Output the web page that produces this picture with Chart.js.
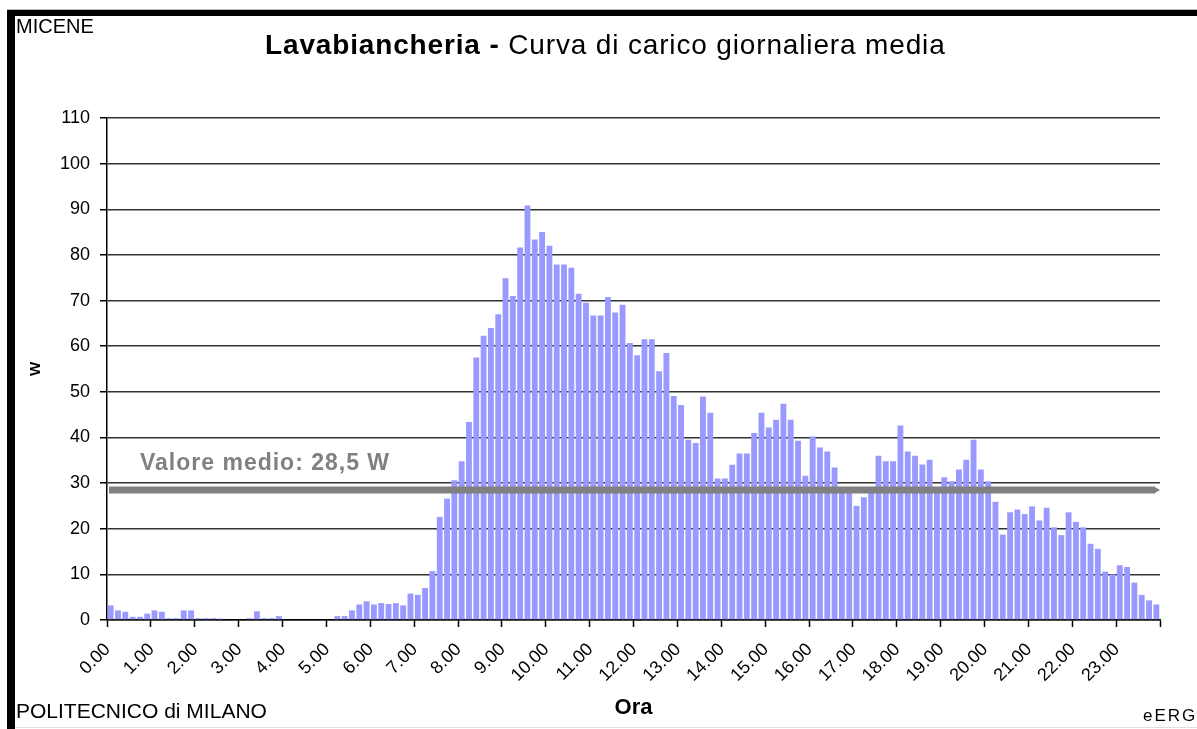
<!DOCTYPE html>
<html><head><meta charset="utf-8">
<script src="https://cdn.jsdelivr.net/npm/chart.js@4.4.1/dist/chart.umd.min.js"></script>
<style>
html,body{margin:0;padding:0;background:#fff;width:1197px;height:729px;overflow:hidden;font-family:"Liberation Sans",Arial,sans-serif;}
#wrap{position:relative;width:1197px;height:729px;}
canvas{position:absolute;left:0;top:0;}
.t{position:absolute;white-space:nowrap;line-height:1;color:#000;}
</style></head><body>
<div id="wrap">
<canvas id="c" width="1197" height="729"></canvas>
<div style="position:absolute;left:7px;top:9px;width:1190px;height:1px;background:#bbb"></div>
<div style="position:absolute;left:7px;top:10px;width:1190px;height:6px;background:#000"></div>
<div style="position:absolute;left:7px;top:10px;width:8px;height:719px;background:#000"></div>
<div style="position:absolute;left:15px;top:727px;width:1182px;height:1px;background:#e0e0e0"></div>
<div class="t" style="left:16px;top:16px;font-size:20px">MICENE</div>
<div class="t" style="left:265px;top:31px;font-size:28px;letter-spacing:0.85px"><b>Lavabiancheria -</b> Curva di carico giornaliera media</div>
<div class="t" style="left:16px;top:700px;font-size:21px">POLITECNICO di MILANO</div>
<div class="t" style="left:1143px;top:707px;font-size:17px;letter-spacing:2px">eERG</div>
</div>
<script>
const categories = [
'0.00','0.10','0.20','0.30','0.40','0.50',
'1.00','1.10','1.20','1.30','1.40','1.50',
'2.00','2.10','2.20','2.30','2.40','2.50',
'3.00','3.10','3.20','3.30','3.40','3.50',
'4.00','4.10','4.20','4.30','4.40','4.50',
'5.00','5.10','5.20','5.30','5.40','5.50',
'6.00','6.10','6.20','6.30','6.40','6.50',
'7.00','7.10','7.20','7.30','7.40','7.50',
'8.00','8.10','8.20','8.30','8.40','8.50',
'9.00','9.10','9.20','9.30','9.40','9.50',
'10.00','10.10','10.20','10.30','10.40','10.50',
'11.00','11.10','11.20','11.30','11.40','11.50',
'12.00','12.10','12.20','12.30','12.40','12.50',
'13.00','13.10','13.20','13.30','13.40','13.50',
'14.00','14.10','14.20','14.30','14.40','14.50',
'15.00','15.10','15.20','15.30','15.40','15.50',
'16.00','16.10','16.20','16.30','16.40','16.50',
'17.00','17.10','17.20','17.30','17.40','17.50',
'18.00','18.10','18.20','18.30','18.40','18.50',
'19.00','19.10','19.20','19.30','19.40','19.50',
'20.00','20.10','20.20','20.30','20.40','20.50',
'21.00','21.10','21.20','21.30','21.40','21.50',
'22.00','22.10','22.20','22.30','22.40','22.50',
'23.00','23.10','23.20','23.30','23.40','23.50'
];

const loadW = [
3.2,2.1,1.8,0.7,0.7,1.4,
2.1,1.8,0.4,0.4,2.1,2.1,
0.4,0.4,0.4,0.3,0,0,
0,0.4,1.9,0.4,0.4,0.85,
0,0,0,0,0,0,
0,0.85,0.85,2.1,3.4,4.1,
3.4,3.7,3.5,3.7,3.2,5.8,
5.5,7.0,10.7,22.6,26.6,30.6,
34.8,43.4,57.5,62.3,64.0,67.0,
74.9,71.0,81.6,90.8,83.4,85.0,
82.0,77.9,77.9,77.2,71.5,69.5,
66.7,66.7,70.8,67.4,69.1,60.7,
58.0,61.5,61.5,54.5,58.5,49.1,
47.1,39.5,38.8,49.0,45.4,31.0,
31.0,34.0,36.5,36.5,41.0,45.4,
42.2,43.9,47.4,43.9,39.3,31.6,
40.2,37.8,36.9,33.4,29.0,28.5,
25.0,26.9,28.0,36.0,34.8,34.8,
42.6,36.9,36.0,34.1,35.1,29.0,
31.3,30.4,33.0,35.1,39.5,33.0,
30.4,25.9,18.7,23.6,24.2,23.2,
24.9,21.8,24.6,20.3,18.6,23.6,
21.5,20.3,16.7,15.6,10.6,10.0,
12.0,11.6,8.2,5.5,4.3,3.4
];

const meanValue = 28.5;
const meanLabel = 'Valore medio: 28,5 W';
const xTitle = 'Ora';
const yTitle = 'W';
const yMin = 0, yMax = 110, yStep = 10;
const labelEvery = 6;

const FONT = '"Liberation Sans", Arial, sans-serif';
Chart.defaults.font.family = FONT;
Chart.defaults.color = '#000';

const meanLinePlugin = {
  id: 'meanLine',
  afterDatasetsDraw(chart) {
    const ctx = chart.ctx;
    const area = chart.chartArea;
    const y = chart.scales.y.getPixelForValue(meanValue);
    ctx.save();
    ctx.strokeStyle = '#808080';
    ctx.fillStyle = '#808080';
    ctx.lineWidth = 7;
    ctx.beginPath();
    ctx.moveTo(area.left + 2, y);
    ctx.lineTo(area.right - 5, y);
    ctx.stroke();
    ctx.beginPath();
    ctx.moveTo(area.right - 6, y - 3.5);
    ctx.lineTo(area.right, y);
    ctx.lineTo(area.right - 6, y + 3.5);
    ctx.closePath();
    ctx.fill();
    ctx.font = 'bold 23px ' + FONT;
    if ('letterSpacing' in ctx) ctx.letterSpacing = '1px';
    ctx.textBaseline = 'alphabetic';
    ctx.textAlign = 'left';
    ctx.fillText(meanLabel, area.left + 33, y - 20);
    ctx.restore();
  }
};

new Chart(document.getElementById('c'), {
  type: 'bar',
  data: {
    labels: categories,
    datasets: [{
      data: loadW,
      backgroundColor: '#9999FF',
      borderWidth: 0,
      categoryPercentage: 1,
      barPercentage: 0.8
    }]
  },
  plugins: [meanLinePlugin],
  options: {
    responsive: false,
    animation: false,
    devicePixelRatio: 1,
    layout: { padding: { left: 27, right: 37, top: 118, bottom: 8 } },
    plugins: { legend: { display: false }, tooltip: { enabled: false }, title: { display: false } },
    scales: {
      x: {
        type: 'category',
        offset: true,
        grid: {
          display: true, offset: true, drawOnChartArea: false, drawTicks: true,
          tickLength: 7, tickWidth: 1.5,
          tickColor: (c) => (c.index === undefined || c.index % labelEvery === 0) ? '#000' : 'rgba(0,0,0,0)'
        },
        border: { display: true, color: '#000', width: 1.5 },
        ticks: {
          autoSkip: false, maxRotation: 45, minRotation: 45, padding: 12, labelOffset: -3,
          color: '#000', font: { size: 18 },
          callback: (v, i) => (i % labelEvery === 0 ? categories[i] : '')
        },
        title: { display: true, text: xTitle, color: '#000', font: { size: 22, weight: 'bold' }, padding: 0 },
        afterFit: (s) => { s.height = 101; }
      },
      y: {
        min: yMin, max: yMax,
        ticks: { stepSize: yStep, padding: 10, color: '#000', font: { size: 18 } },
        grid: { color: '#333', lineWidth: 1.5, tickLength: 7, tickColor: '#000', drawTicks: true },
        border: { display: true, color: '#000', width: 1.5 },
        title: { display: true, text: yTitle, color: '#000', font: { size: 15, weight: 'bold' }, padding: 0 },
        afterFit: (s) => { s.width = 80; }
      }
    }
  }
});
</script>
</body></html>
